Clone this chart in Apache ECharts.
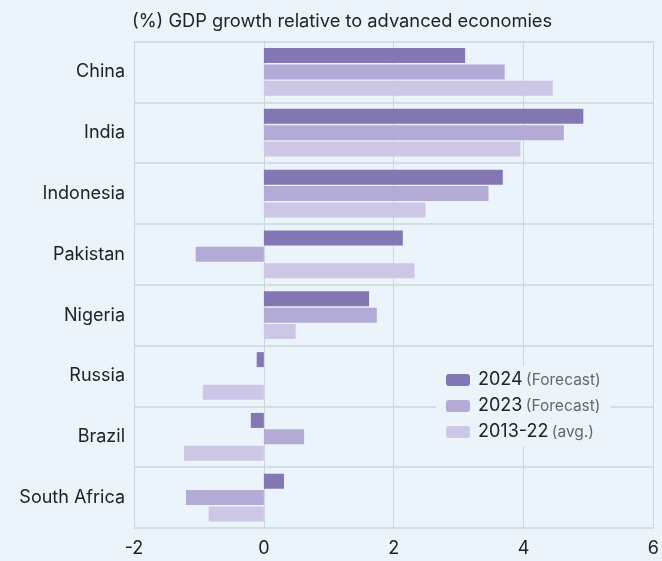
<!DOCTYPE html>
<html>
<head>
<meta charset="utf-8">
<script src="https://cdn.jsdelivr.net/npm/echarts@6/dist/echarts.min.js"></script>
<style>
  html, body { margin: 0; padding: 0; background: #eaf4fa; }
  #chart { width: 662px; height: 561px; }
</style>
</head>
<body>
<div id="chart"></div>
<script>
// Countries, top to bottom
const countries = ['China', 'India', 'Indonesia', 'Pakistan', 'Nigeria', 'Russia', 'Brazil', 'South Africa'];
// GDP growth gap vs. advanced economies, percentage points
const growth2024 = [3.1, 4.92, 3.68, 2.14, 1.62, -0.11, -0.2, 0.31];
const growth2023 = [3.71, 4.62, 3.46, -1.05, 1.74, 0, 0.62, -1.2];
const growthAvg = [4.45, 3.95, 2.49, 2.32, 0.49, -0.94, -1.23, -0.85];
const seriesNames = ['2024', '2023', '2013-22'];
const seriesNotes = ['(Forecast)', '(Forecast)', '(avg.)'];
const xTicks = { min: -2, max: 6, step: 2 };

const colors = ['#8378b4', '#b3abd6', '#cdc7e5'];
const gridColor = '#d2dde5';
const font = 'Inter, "Noto Sans", sans-serif';

const chart = echarts.init(document.getElementById('chart'), null, { renderer: 'canvas' });

const makeBar = (name, data, color) => ({
  name,
  type: 'bar',
  data,
  barWidth: 15,
  barGap: '9%',
  itemStyle: { color },
  emphasis: { disabled: true }
});

chart.setOption({
  backgroundColor: '#eaf4fa',
  animation: false,
  textStyle: { fontFamily: font },
  title: {
    text: '(%) GDP growth relative to advanced economies',
    left: 127,
    top: 8,
    textStyle: { fontFamily: font, fontSize: 18.3, fontWeight: 'normal', color: '#222' }
  },
  legend: {
    orient: 'vertical',
    left: 436,
    top: 366,
    padding: [5, 10],
    backgroundColor: '#eaf4fa',
    itemWidth: 24,
    itemHeight: 12,
    itemGap: 8,
    data: seriesNames,
    formatter: name => {
      const i = seriesNames.indexOf(name);
      return '{a|' + name + '} {b|' + seriesNotes[i] + '}';
    },
    textStyle: {
      rich: {
        a: { fontFamily: font, fontSize: 18, color: '#222', lineHeight: 19, padding: [0, 0, 0, 3] },
        b: { fontFamily: font, fontSize: 15.5, color: '#666', lineHeight: 19 }
      }
    }
  },
  grid: { left: 134, right: 8, top: 41.5, bottom: 33, containLabel: false },
  xAxis: {
    type: 'value',
    min: xTicks.min,
    max: xTicks.max,
    interval: xTicks.step,
    axisLine: { show: false },
    axisTick: { show: false },
    axisLabel: { fontFamily: font, fontSize: 18, color: '#222', margin: 12 },
    splitLine: { show: true, lineStyle: { color: '#cdd6dd', width: 1 } }
  },
  yAxis: {
    type: 'category',
    data: countries,
    inverse: true,
    axisLine: { show: false },
    axisTick: { show: false },
    axisLabel: { fontFamily: font, fontSize: 18, color: '#222', margin: 9 },
    splitLine: { show: true, lineStyle: { color: gridColor, width: 2 } }
  },
  series: [
    makeBar(seriesNames[0], growth2024, colors[0]),
    makeBar(seriesNames[1], growth2023, colors[1]),
    makeBar(seriesNames[2], growthAvg, colors[2])
  ]
});
</script>
</body>
</html>
